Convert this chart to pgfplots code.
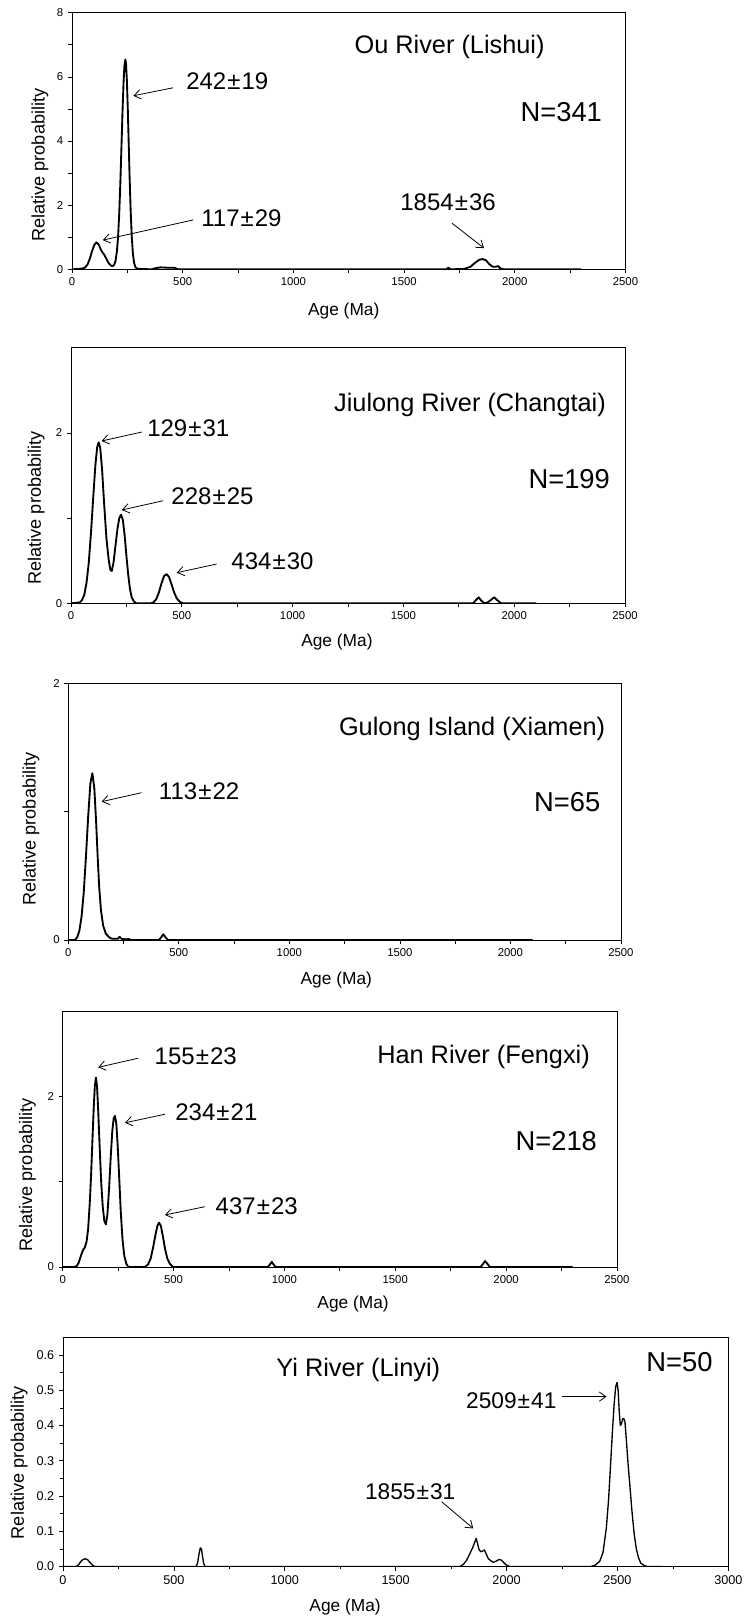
\documentclass[border=0pt]{standalone}
\usepackage{fontspec}
\setmainfont{Liberation Sans}
\usepackage{pgfplots}
\pgfplotsset{compat=1.18}
\usetikzlibrary{arrows.meta}
\newcommand{\titlefont}{\fontsize{19}{21}\selectfont}
\newcommand{\peakfont}{\fontsize{18}{20}\selectfont}
\newcommand{\nfont}{\fontsize{20.5}{22}\selectfont}
\newcommand{\PM}{\kern0.8pt±\kern0.8pt}
\tikzset{
  arr/.style={black, line width=0.6pt, -{Straight Barb[length=5pt,width=7pt]}},
  curve/.style={black, line width=1.4pt, line join=round},
}
\pgfplotsset{
  agestyle/.style={
    scale only axis,
    axis line style={line width=0.6pt},
    tick pos=left, tick align=outside,
    major tick length=3pt, minor tick length=3pt,
    every tick/.style={black, line width=0.5pt},
    xmin=0, xmax=2500, ymin=0,
    xtick={0,500,...,2500}, minor xtick={250,750,...,2250},
    xlabel={Age (Ma)}, ylabel={Relative probability},
    xlabel style={font=\fontsize{13}{15}\selectfont},
    ylabel style={font=\fontsize{13.6}{15}\selectfont},
    tick label style={font=\fontsize{8.5}{10}\selectfont},
    /pgf/number format/assume math mode=true,
    /pgf/number format/1000 sep={},
    enlargelimits=false,
  },
}
\begin{document}
\begin{tikzpicture}
\path[use as bounding box] (0,0) rectangle (561pt,-1214.25pt);

% ---------------- Panel 1: Ou River ----------------
\begin{axis}[agestyle, at={(54pt,-201.98pt)}, anchor=south west,
  width=415.1pt, height=192.45pt, ymax=8,
  ytick={0,2,4,6,8}, minor ytick={1,3,5,7},
  xlabel style={at={(axis description cs:0.491,0)}, anchor=center, yshift=-31pt},
  ylabel style={at={(axis description cs:-0.058,0.406)}, anchor=center}]
\addplot[curve] coordinates {
(0,0) (30,0.01) (50,0.03) (60,0.06) (70,0.15) (80,0.32) (90,0.55) (100,0.75)
(110,0.84) (120,0.78) (130,0.62) (138,0.52) (145,0.46) (155,0.33) (165,0.20)
(175,0.12) (182,0.10) (190,0.13) (197,0.27) (203,0.57) (208,1.00) (213,1.69)
(218,2.62) (223,3.73) (228,4.88) (233,5.85) (237,6.36) (241,6.54) (244,6.41)
(248,5.87) (252,5.00) (256,3.97) (260,2.93) (265,1.82) (270,1.01) (275,0.50)
(280,0.22) (286,0.07) (295,0.02) (310,0.01) (360,0) (380,0.04) (400,0.06)
(430,0.05) (460,0.05) (480,0) (1690,0) (1700,0.05) (1710,0) (1770,0.01)
(1800,0.08) (1820,0.20) (1840,0.30) (1855,0.32) (1870,0.28) (1885,0.16)
(1900,0.08) (1915,0.08) (1925,0.10) (1935,0.03) (1950,0) (2300,0)
};
\node[anchor=base east, font=\titlefont] at (axis cs:2156,6.74) {Ou River (Lishui)};
\node[anchor=base east, font=\nfont] at (axis cs:2415,4.60) {N=341};
\node[anchor=base west, font=\peakfont] at (axis cs:495,5.61) {242\PM19};
\node[anchor=base west, font=\peakfont] at (axis cs:563,1.35) {117\PM29};
\node[anchor=base west, font=\peakfont] at (axis cs:1462,1.83) {1854\PM36};
\draw[arr] (axis cs:457,5.66) -- (axis cs:277,5.41);
\draw[arr] (axis cs:548,1.54) -- (axis cs:139,0.91);
\draw[arr] (axis cs:1716,1.44) -- (axis cs:1861,0.66);
\end{axis}

% ---------------- Panel 2: Jiulong River ----------------
\begin{axis}[agestyle, at={(53.25pt,-452.48pt)}, anchor=south west,
  width=415.5pt, height=191.7pt, ymax=3,
  ytick={0,2}, minor ytick={1},
  xlabel style={at={(axis description cs:0.48,0)}, anchor=center, yshift=-29.4pt},
  ylabel style={at={(axis description cs:-0.063,0.373)}, anchor=center}]
\addplot[curve] coordinates {
(0,0) (40,0.01) (50,0.04) (60,0.10) (70,0.24) (80,0.47) (90,0.82) (100,1.23)
(110,1.62) (118,1.83) (125,1.89) (132,1.82) (140,1.58) (150,1.15) (160,0.76)
(170,0.51) (178,0.39) (184,0.38) (192,0.48) (200,0.66) (210,0.88) (218,1.00)
(226,1.04) (234,0.98) (242,0.80) (250,0.56) (258,0.34) (266,0.17) (274,0.07)
(284,0.02) (295,0) (360,0) (372,0.01) (385,0.05) (397,0.13) (409,0.24)
(420,0.32) (431,0.343) (442,0.31) (453,0.23) (465,0.13) (477,0.06) (490,0.02)
(505,0) (1815,0) (1828,0.04) (1840,0.07) (1852,0.03) (1866,0) (1880,0.01)
(1895,0.04) (1910,0.07) (1922,0.04) (1940,0) (2100,0)
};
\node[anchor=base east, font=\titlefont] at (axis cs:2435,2.25) {Jiulong River (Changtai)};
\node[anchor=base east, font=\nfont] at (axis cs:2453,1.35) {N=199};
\node[anchor=base west, font=\peakfont] at (axis cs:323,1.955) {129\PM31};
\node[anchor=base west, font=\peakfont] at (axis cs:432,1.154) {228\PM25};
\node[anchor=base west, font=\peakfont] at (axis cs:703,0.40) {434\PM30};
\draw[arr] (axis cs:319,2.01) -- (axis cs:138,1.905);
\draw[arr] (axis cs:416,1.204) -- (axis cs:229,1.095);
\draw[arr] (axis cs:657,0.461) -- (axis cs:477,0.359);
\end{axis}

% ---------------- Panel 3: Gulong Island ----------------
\begin{axis}[agestyle, at={(51.2pt,-705pt)}, anchor=south west,
  width=414.5pt, height=192.5pt, ymax=2,
  ytick={0,2}, minor ytick={1},
  xlabel style={at={(axis description cs:0.485,0)}, anchor=center, yshift=-30pt},
  ylabel style={at={(axis description cs:-0.0675,0.432)}, anchor=center}]
\addplot[curve] coordinates {
(0,0) (30,0) (40,0.02) (50,0.07) (60,0.18) (70,0.37) (80,0.65) (90,0.96)
(100,1.22) (109,1.30) (118,1.18) (126,0.92) (133,0.65) (140,0.41) (148,0.23)
(158,0.11) (170,0.05) (180,0.03) (190,0.015) (200,0.01) (225,0.01) (232,0.025)
(240,0.01) (260,0.005) (272,0.008) (285,0) (410,0) (420,0.02) (430,0.045)
(440,0.02) (452,0) (2100,0)
};
\node[anchor=base east, font=\titlefont] at (axis cs:2450,1.59) {Gulong Island (Xiamen)};
\node[anchor=base east, font=\nfont] at (axis cs:2428,1.0) {N=65};
\node[anchor=base west, font=\peakfont] at (axis cs:389,1.096) {113\PM22};
\draw[arr] (axis cs:332,1.148) -- (axis cs:151,1.078);
\end{axis}

% ---------------- Panel 4: Han River ----------------
\begin{axis}[agestyle, at={(47pt,-950.25pt)}, anchor=south west,
  width=415.7pt, height=192pt, ymax=3,
  ytick={0,2}, minor ytick={1},
  xlabel style={at={(axis description cs:0.524,0)}, anchor=center, yshift=-27.8pt},
  ylabel style={at={(axis description cs:-0.0635,0.359)}, anchor=center}]
\addplot[curve] coordinates {
(0,0) (50,0) (63,0.01) (72,0.05) (82,0.13) (92,0.20) (100,0.23) (108,0.30)
(115,0.45) (122,0.74) (128,1.06) (134,1.47) (140,1.86) (145,2.12) (150,2.22)
(155,2.12) (160,1.85) (167,1.40) (174,0.98) (181,0.70) (188,0.54) (195,0.50)
(202,0.62) (210,0.95) (217,1.30) (224,1.60) (230,1.74) (236,1.77) (242,1.68)
(248,1.43) (255,1.05) (262,0.65) (270,0.32) (278,0.13) (287,0.04) (296,0)
(370,0) (385,0.03) (397,0.10) (408,0.23) (418,0.37) (427,0.48) (435,0.52)
(443,0.48) (452,0.36) (462,0.21) (472,0.10) (483,0.04) (497,0) (925,0)
(935,0.03) (943,0.06) (951,0.03) (960,0) (1885,0) (1897,0.04) (1905,0.07)
(1915,0.04) (1927,0) (2300,0)
};
\node[anchor=base east, font=\titlefont] at (axis cs:2399,2.39) {Han River (Fengxi)};
\node[anchor=base east, font=\nfont] at (axis cs:2431,1.37) {N=218};
\node[anchor=base west, font=\peakfont] at (axis cs:394,2.37) {155\PM23};
\node[anchor=base west, font=\peakfont] at (axis cs:487,1.72) {234\PM21};
\node[anchor=base west, font=\peakfont] at (axis cs:669,0.62) {437\PM23};
\draw[arr] (axis cs:341,2.447) -- (axis cs:160,2.34);
\draw[arr] (axis cs:461,1.79) -- (axis cs:281,1.69);
\draw[arr] (axis cs:642,0.707) -- (axis cs:461,0.61);
\end{axis}

% ---------------- Panel 5: Yi River ----------------
\begin{axis}[agestyle, at={(47.25pt,-1174.9pt)}, anchor=south west,
  width=499pt, height=171.9pt, xmax=3000, ymax=0.65,
  xtick={0,500,...,3000}, minor xtick={250,750,...,2750},
  ytick={0,0.1,...,0.6}, minor ytick={0.05,0.15,...,0.55},
  minor tick length=2pt,
  tick label style={font=\fontsize{9.5}{11}\selectfont},
  yticklabel style={/pgf/number format/.cd, fixed, fixed zerofill, precision=1},
  xlabel style={at={(axis description cs:0.424,0)}, anchor=center, yshift=-30pt},
  ylabel style={at={(axis description cs:-0.066,0.454)}, anchor=center}]
\addplot[black, line width=1.0pt, line join=round] coordinates {
(0,0) (60,0) (70,0.005) (80,0.014) (90,0.020) (100,0.022) (110,0.020)
(120,0.013) (130,0.006) (140,0.001) (150,0) (600,0) (607,0.01) (613,0.035)
(619,0.053) (624,0.05) (629,0.03) (634,0.01) (640,0) (1790,0) (1805,0.006)
(1820,0.018) (1835,0.037) (1848,0.055) (1856,0.068) (1863,0.080) (1869,0.066)
(1876,0.048) (1884,0.042) (1892,0.044) (1900,0.047) (1908,0.036) (1918,0.022)
(1928,0.017) (1940,0.012) (1952,0.015) (1963,0.019) (1972,0.020) (1982,0.015)
(1992,0.008) (2002,0.003) (2015,0) (2380,0) (2400,0.004) (2420,0.015)
(2435,0.040) (2450,0.110) (2460,0.190) (2470,0.300) (2478,0.390) (2485,0.460)
(2492,0.510) (2498,0.522) (2503,0.500) (2508,0.440) (2513,0.400) (2518,0.405)
(2524,0.420) (2530,0.418) (2534,0.410) (2540,0.360) (2548,0.290) (2556,0.230)
(2565,0.160) (2575,0.095) (2585,0.050) (2595,0.025) (2605,0.010) (2620,0.003)
(2635,0) (2700,0)
};
\node[anchor=base east, font=\titlefont] at (axis cs:1722,0.539) {Yi River (Linyi)};
\node[anchor=base east, font=\nfont] at (axis cs:2950,0.553) {N=50};
\node[anchor=base west, font=\fontsize{17}{19}\selectfont] at (axis cs:1797,0.449) {2509\PM41};
\node[anchor=base east, font=\fontsize{17}{19}\selectfont] at (axis cs:1790,0.189) {1855\PM31};
\draw[arr] (axis cs:2248,0.482) -- (axis cs:2451,0.482);
\draw[arr] (axis cs:1707,0.184) -- (axis cs:1850,0.108);
\end{axis}
\end{tikzpicture}
\end{document}
